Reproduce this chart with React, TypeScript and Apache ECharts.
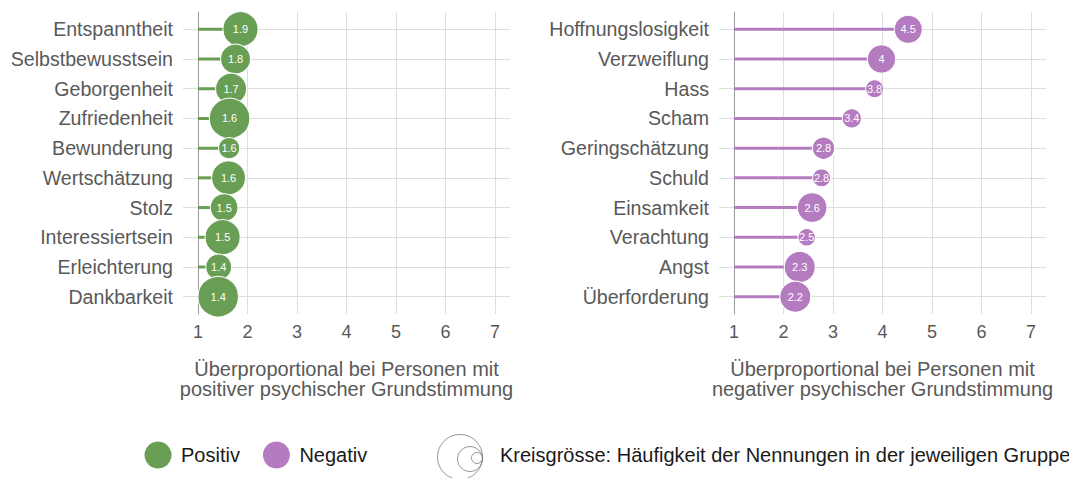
import React, { useEffect, useRef } from 'react';
import * as echarts from 'echarts';

// ---------- data ----------
const positiveCategories = ['Entspanntheit', 'Selbstbewusstsein', 'Geborgenheit', 'Zufriedenheit', 'Bewunderung', 'Wertschätzung', 'Stolz', 'Interessiertsein', 'Erleichterung', 'Dankbarkeit'];
const positiveValues = [1.86, 1.76, 1.67, 1.64, 1.63, 1.62, 1.53, 1.5, 1.42, 1.41];
const positiveCounts = [77, 56, 60, 103, 28, 72, 48, 77, 42, 103];

const negativeCategories = ['Hoffnungslosigkeit', 'Verzweiflung', 'Hass', 'Scham', 'Geringschätzung', 'Schuld', 'Einsamkeit', 'Verachtung', 'Angst', 'Überforderung'];
const negativeValues = [4.52, 3.98, 3.84, 3.38, 2.81, 2.77, 2.58, 2.47, 2.33, 2.24];
const negativeCounts = [49, 50, 20, 23, 31, 20, 55, 19, 60, 60];

const axisMin = 1;
const axisMax = 7;
const axisInterval = 1;
const baseline = 1;
const legendLabels = ['Positiv', 'Negativ'];
const axisTitles = [
  'Überproportional bei Personen mit\npositiver psychischer Grundstimmung',
  'Überproportional bei Personen mit\nnegativer psychischer Grundstimmung',
];
const sizeLegendText = 'Kreisgrösse: Häufigkeit der Nennungen in der jeweiligen Gruppe';

// ---------- style ----------
const GREEN = '#699e55';
const PURPLE = '#b57bc0';
const FONT = '"Liberation Sans", Arial, Helvetica, sans-serif';
const TEXT_GREY = '#595959';
const GRID_GREY = '#dedede';

const fmt = (v: number) => String(Math.round(v * 10) / 10);
const sizeOf = (n: number) => 4 * Math.sqrt(n);

function buildPanel(idx: number, cats: string[], vals: number[], counts: number[], color: string, name: string, title: string, geom: any) {
  const a = idx * 2;
  const b = idx * 2 + 1;
  const grids = [
    { left: geom.aLeft, right: geom.aRight, top: 12, height: 302 },
    { left: geom.bLeft, right: geom.bRight, top: 29.3, height: 267.4 },
  ];
  const xAxes = [
    {
      type: 'value', gridIndex: a, min: axisMin, max: axisMax, interval: axisInterval,
      axisLine: { show: false }, axisTick: { show: false },
      axisLabel: { fontSize: 18, color: TEXT_GREY, fontFamily: FONT, margin: 9 },
      splitLine: { show: true, lineStyle: { color: GRID_GREY, width: 1 } },
      name: title, nameLocation: 'middle', nameGap: 45,
      nameTextStyle: { fontSize: 20, color: TEXT_GREY, fontFamily: FONT, lineHeight: 20, align: 'center' },
    },
    { type: 'value', gridIndex: b, min: axisMin - 0.3, max: axisMax + 0.3, show: false },
  ];
  const yAxes = [
    {
      type: 'value', gridIndex: a, min: 0, max: 1, position: 'left',
      axisLine: { show: true, lineStyle: { color: '#9a9a9a', width: 1 } },
      axisTick: { show: false }, axisLabel: { show: false }, splitLine: { show: false },
    },
    {
      type: 'category', gridIndex: b, data: cats, inverse: true, boundaryGap: false,
      axisLine: { show: false }, axisTick: { show: false },
      axisLabel: { fontSize: 19.6, color: TEXT_GREY, fontFamily: FONT, margin: 10 },
      splitLine: { show: true, lineStyle: { color: GRID_GREY, width: 1 } },
    },
  ];
  const series = [
    {
      type: 'custom', name: name + '-segment', xAxisIndex: b, yAxisIndex: b,
      data: vals.map((v, i) => [v, i]),
      encode: { x: 0, y: 1 },
      renderItem: (params: any, api: any) => {
        const s = api.coord([baseline, api.value(1)]);
        const e = api.coord([api.value(0), api.value(1)]);
        return { type: 'line', shape: { x1: s[0], y1: s[1], x2: e[0], y2: e[1] }, style: { stroke: color, lineWidth: 3 } };
      },
      z: 2,
    },
    {
      type: 'scatter', name, xAxisIndex: b, yAxisIndex: b,
      data: vals.map((v, i) => [v, i, counts[i]]),
      symbol: 'circle',
      symbolSize: (d: number[]) => sizeOf(d[2]),
      itemStyle: { color, borderColor: '#ffffff', borderWidth: 1, opacity: 1 },
      label: {
        show: true, position: 'inside', color: '#ffffff', fontSize: 11, fontFamily: FONT,
        formatter: (p: any) => fmt(p.value[0]),
      },
      z: 3,
    },
  ];
  return { grids, xAxes, yAxes, series };
}

export default function App() {
  const ref = useRef<HTMLDivElement>(null);
  useEffect(() => {
    if (!ref.current) return;
    const chart = echarts.init(ref.current, undefined, { renderer: 'svg' });
    const left = buildPanel(0, positiveCategories, positiveValues, positiveCounts, GREEN, legendLabels[0], axisTitles[0],
      { aLeft: 198, aRight: 1069 - 495, bLeft: 183, bRight: 1069 - 510 });
    const right = buildPanel(1, negativeCategories, negativeValues, negativeCounts, PURPLE, legendLabels[1], axisTitles[1],
      { aLeft: 734, aRight: 1069 - 1031, bLeft: 719, bRight: 1069 - 1046 });

    const option: any = {
      animation: false,
      backgroundColor: '#ffffff',
      textStyle: { fontFamily: FONT },
      grid: [...left.grids, ...right.grids],
      xAxis: [...left.xAxes, ...right.xAxes],
      yAxis: [...left.yAxes, ...right.yAxes],
      series: [...left.series, ...right.series],
      legend: {
        data: legendLabels,
        left: 144.5, top: 441.5,
        itemWidth: 36, itemHeight: 27, itemGap: 23,
        icon: 'circle', padding: 0,
        itemStyle: { borderWidth: 0 },
        textStyle: { fontSize: 20, color: '#1a1a1a', fontFamily: FONT },
        selectedMode: false,
      },
      graphic: [
        { type: 'circle', shape: { cx: 460, cy: 457, r: 22.5 }, style: { fill: 'none', stroke: '#7a7a7a', lineWidth: 0.8 } },
        { type: 'circle', shape: { cx: 470, cy: 459, r: 12.5 }, style: { fill: 'none', stroke: '#7a7a7a', lineWidth: 0.8 } },
        { type: 'circle', shape: { cx: 477, cy: 458, r: 5.5 }, style: { fill: 'none', stroke: '#7a7a7a', lineWidth: 0.8 } },
        {
          type: 'text', x: 500, y: 455,
          style: { text: sizeLegendText, fontSize: 20, fill: '#1a1a1a', fontFamily: FONT, verticalAlign: 'middle', align: 'left' },
        },
      ],
    };
    chart.setOption(option);
    return () => chart.dispose();
  }, []);
  return <div ref={ref} style={{ position: 'fixed', left: 0, top: 0, width: 1069, height: 478 }} />;
}
